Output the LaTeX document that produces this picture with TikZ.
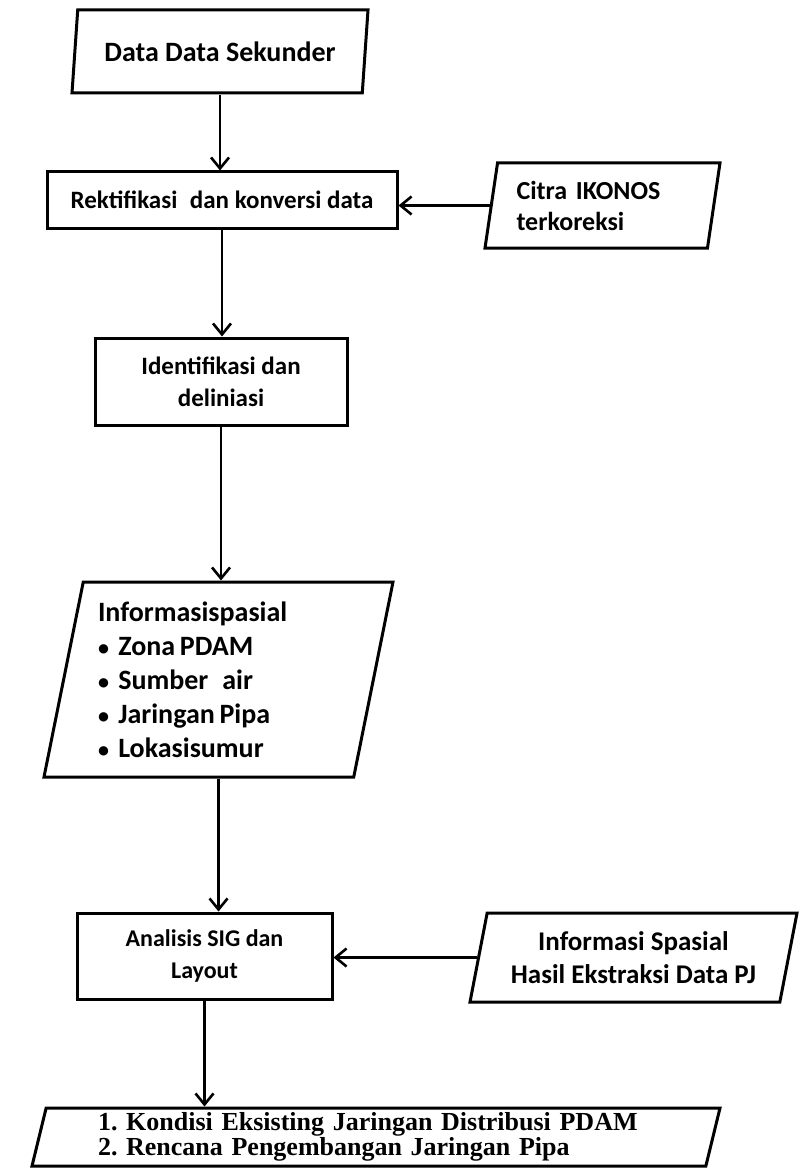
\documentclass[tikz,border=0pt]{standalone}
\usepackage{fontspec}
\setmainfont{Carlito}
\newfontfamily\timesfont{Liberation Serif}
\usetikzlibrary{shapes.geometric}
\usetikzlibrary{arrows.meta}
\newcommand{\butir}{{\fontsize{22}{34}\selectfont\textbullet}\ }

\begin{document}
\frenchspacing
\begin{tikzpicture}
	[	x=1pt, y=-1pt,					% 1pt = 1 piksel gambar
		box/.style={draw, line width=3pt, rectangle, inner sep=2pt, align=center},
		para/.style={draw, line width=3pt, trapezium, trapezium stretches body, inner sep=2pt, align=center},
		arr/.style={line width=2.6pt, -{Straight Barb[length=11pt,width=18pt]}}	]
	\useasboundingbox (0,0) rectangle (800,1169);		% ukuran halaman
	\node[para, trapezium left angle=76.5, trapezium right angle=103.5, minimum width=296pt, minimum height=83pt,
		font=\fontsize{28}{30}\selectfont\bfseries] (data) at (220,51.5) {Data Data Sekunder};
	\node[box, minimum width=350pt, minimum height=56pt,
		font=\fontsize{25}{30}\selectfont\bfseries] (rekt) at (222,200) {Rektifikasi\enspace dan konversi data};
	\node[para, trapezium left angle=76.8, trapezium right angle=103.2, minimum width=235pt, minimum height=85pt,
		align=left, text width=172pt, font=\fontsize{26}{31}\selectfont\bfseries] (citra) at (602.5,205.5) {Citra IKONOS\\terkoreksi};
	\node[box, minimum width=252pt, minimum height=87pt,
		font=\fontsize{25}{32}\selectfont\bfseries] (ident) at (221,381.5) {Identifikasi dan\\deliniasi};
	\node[para, trapezium left angle=76.2, trapezium right angle=103.8, minimum width=349pt, minimum height=195pt,
		align=left, text width=241pt, font=\fontsize{28}{34}\selectfont\bfseries] (info) at (218.5,679.5)
		{Informasispasial\\
		 \butir Zona\,PDAM\\
		 \butir Sumber\enspace air\\
		 \butir Jaringan\,Pipa\\
		 \butir Lokasisumur};
	\node[box, minimum width=255pt, minimum height=86pt,
		font=\fontsize{24}{32}\selectfont\bfseries] (analisis) at (204.5,956) {Analisis SIG dan\\Layout};
	\node[para, trapezium left angle=73, trapezium right angle=107, minimum width=327pt, minimum height=89pt,
		font=\fontsize{27}{33}\selectfont\bfseries] (pj) at (633.5,957.5) {Informasi Spasial\\Hasil Ekstraksi Data PJ};
	\node[para, trapezium left angle=75, trapezium right angle=105, minimum width=688pt, minimum height=58pt,
		align=left, text width=556pt, font=\timesfont\fontsize{26}{25}\selectfont\bfseries] (hasil) at (376,1137)
		{1. Kondisi Eksisting Jaringan Distribusi PDAM\\
		 2. Rencana Pengembangan Jaringan Pipa};
	% panah
	\draw[arr] (data.south) -- (data.south |- rekt.north);
	\draw[arr] (citra.left side) -- (citra.left side -| rekt.east);
	\draw[arr] (rekt.south) -- (rekt.south |- ident.north);
	\draw[arr] (ident.south) -- (ident.south |- info.north);
	\draw[arr] (info.south) -- (info.south |- analisis.north);
	\draw[arr] (pj.left side) -- (pj.left side -| analisis.east);
	\draw[arr] (analisis.south) -- (analisis.south |- hasil.north);
\end{tikzpicture}
\end{document}
